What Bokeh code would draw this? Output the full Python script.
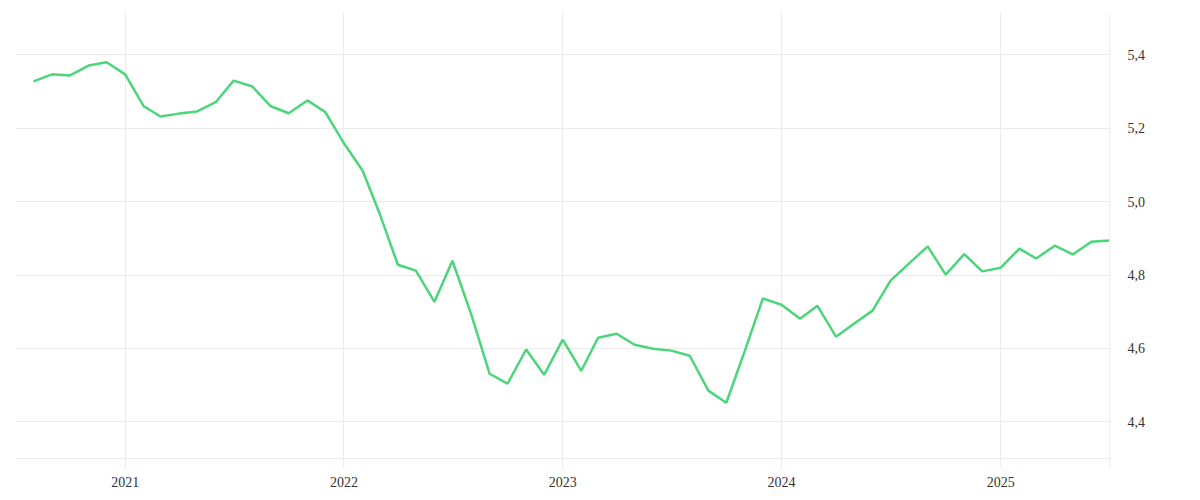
import pandas as pd
from bokeh.plotting import figure
from bokeh.models import (FixedTicker, DatetimeTickFormatter, CustomJSTickFormatter,
                          Span, Range1d, ColumnDataSource)
from bokeh.embed import file_html
from bokeh.resources import INLINE

start_month = "2020-08-01"
values = [
    5.328, 5.347, 5.344, 5.371, 5.380,
    5.347, 5.260, 5.232, 5.240, 5.246, 5.271, 5.330, 5.314, 5.260, 5.241, 5.276, 5.244,
    5.159, 5.085, 4.970, 4.828, 4.812, 4.727, 4.839, 4.695, 4.531, 4.504, 4.597, 4.528,
    4.624, 4.539, 4.629, 4.640, 4.610, 4.599, 4.594, 4.580, 4.485, 4.452, 4.594, 4.736,
    4.719, 4.681, 4.716, 4.632, 4.667, 4.703, 4.785, 4.832, 4.878, 4.801, 4.857, 4.810,
    4.820, 4.872, 4.845, 4.880, 4.856, 4.891, 4.894,
]
year_ticks = ["2021-01-01", "2022-01-01", "2023-01-01", "2024-01-01", "2025-01-01"]
y_ticks = [4.4, 4.6, 4.8, 5.0, 5.2, 5.4]

dates = pd.date_range(start_month, periods=len(values), freq="MS")
src = ColumnDataSource(data=dict(x=dates, y=values))

x_start = pd.Timestamp("2020-07-02")
x_end = pd.Timestamp("2025-07-03")

p = figure(width=1184, height=492, x_axis_type="datetime", y_axis_location="right",
           output_backend="svg", toolbar_location=None,
           x_range=Range1d(x_start, x_end), y_range=Range1d(4.2727, 5.5156),
           min_border_left=15, min_border_top=12, min_border_bottom=24, min_border_right=74)
p.outline_line_color = None
p.background_fill_color = "white"
p.border_fill_color = "white"

p.line("x", "y", source=src, line_color="#4cd57a", line_width=2.5)

ms = lambda s: pd.Timestamp(s).value // 10**6
p.xaxis.ticker = FixedTicker(ticks=[ms(t) for t in year_ticks])
p.xaxis.formatter = DatetimeTickFormatter(years="%Y", months="%Y", days="%Y")
p.yaxis.ticker = FixedTicker(ticks=y_ticks)
p.yaxis.formatter = CustomJSTickFormatter(code="return tick.toFixed(1).replace('.', ',');")

for ax in (p.xaxis, p.yaxis):
    ax.axis_line_color = None
    ax.major_tick_line_color = None
    ax.minor_tick_line_color = None
    ax.major_tick_out = 0
    ax.major_tick_in = 0
    ax.major_label_text_font = "Liberation Serif"
    ax.major_label_text_font_size = "14px"
    ax.major_label_text_color = "#333333"
p.xaxis.major_label_standoff = 8
p.yaxis.major_label_standoff = 17

p.xgrid.grid_line_color = "#ebebeb"
p.ygrid.grid_line_color = "#ebebeb"
p.xgrid.ticker = p.xaxis[0].ticker
p.ygrid.ticker = p.yaxis[0].ticker

p.add_layout(Span(location=4.3, dimension="width", line_color="#ebebeb", line_width=1))
p.add_layout(Span(location=ms("2025-07-02"), dimension="height", line_color="#ebebeb", line_width=1))

open("out.html", "w").write(file_html(p, INLINE))
